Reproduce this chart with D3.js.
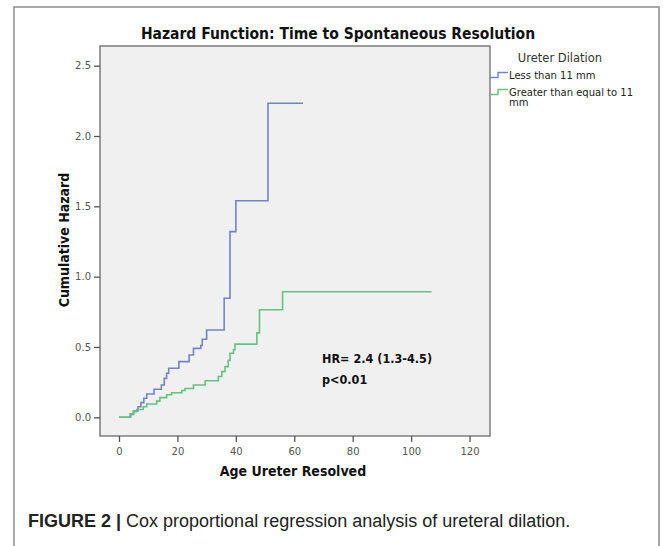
<!DOCTYPE html>
<html>
<head>
<meta charset="utf-8">
<script src="https://cdn.jsdelivr.net/npm/d3@7"></script>
<style>
  body { margin: 0; background: #fff; }
  svg { display: block; }
</style>
</head>
<body>
<div class="chart-container"></div>
<script>
// Less than 11 mm (blue) - step times and cumulative hazard
const lessTimes  = [0, 4, 5, 6.5, 7.5, 8.5, 9.5, 12, 14.5, 15.5, 16.3, 17, 20.5, 24, 25.5, 28, 28.5, 30, 36, 38, 40, 51, 63];
const lessHazard = [0, 0.02, 0.045, 0.075, 0.104, 0.135, 0.166, 0.199, 0.23, 0.277, 0.313, 0.349, 0.396, 0.443, 0.49, 0.51, 0.555, 0.621, 0.846, 1.32, 1.54, 2.233, 2.233];

// Greater than equal to 11 mm (green)
const greaterTimes  = [0, 3.8, 4.9, 6.1, 8.3, 9.5, 12.9, 14, 16.3, 18, 21.5, 22.6, 25.5, 29.5, 34, 35.2, 36.3, 37.4, 38, 39.2, 39.7, 47.2, 48.1, 56, 107];
const greaterHazard = [0, 0.024, 0.04, 0.055, 0.075, 0.095, 0.115, 0.14, 0.16, 0.175, 0.19, 0.205, 0.23, 0.26, 0.29, 0.325, 0.36, 0.405, 0.455, 0.48, 0.52, 0.60, 0.765, 0.893, 0.893];

const xTicks = [0, 20, 40, 60, 80, 100, 120];
const yTicks = [0, 0.5, 1.0, 1.5, 2.0, 2.5];
const groups = ['Less than 11 mm', 'Greater than equal to 11 mm'];
const groupColors = ['#7482c9', '#62c47e'];

const svg_width = 669, svg_height = 546;
const plot = {left: 100, top: 46, right: 490, bottom: 436};
const chartFont = 'DejaVu Sans Condensed, DejaVu Sans, sans-serif';

const svg = d3.select('.chart-container').append('svg')
    .attr('width', svg_width).attr('height', svg_height);

// outer figure frame
svg.append('rect')
    .attr('x', 14).attr('y', 7).attr('width', 645).attr('height', 600)
    .style('fill', 'none').style('stroke', '#8a8a8a').style('stroke-width', 1.5);

const xScale = d3.scaleLinear().domain([-6.5, 127]).range([plot.left, plot.right]);
const yScale = d3.scaleLinear().domain([-0.133, 2.64]).range([plot.bottom, plot.top]);

// plot background
svg.append('rect')
    .attr('x', plot.left).attr('y', plot.top)
    .attr('width', plot.right - plot.left).attr('height', plot.bottom - plot.top)
    .style('fill', '#f0f0f0').style('stroke', '#6a6a6a').style('stroke-width', 1.3);

// axes
const xAxis = d3.axisBottom(xScale).tickValues(xTicks).tickSizeInner(6).tickSizeOuter(0);
const xAxisDraw = svg.append('g').attr('transform', `translate(0,${plot.bottom})`).call(xAxis);
const yAxis = d3.axisLeft(yScale).tickValues(yTicks).tickFormat(d3.format('.1f')).tickSizeInner(6).tickSizeOuter(0);
const yAxisDraw = svg.append('g').attr('transform', `translate(${plot.left},0)`).call(yAxis);

[xAxisDraw, yAxisDraw].forEach(a => {
    a.select('.domain').remove();
    a.selectAll('line').style('stroke', '#555').style('stroke-width', 1.3);
    a.selectAll('text').style('font-family', 'DejaVu Sans, sans-serif')
        .style('font-size', '10px').style('fill', '#555');
});
xAxisDraw.selectAll('text').attr('dy', '0.95em');

// step curves
const line = d3.line()
    .x(d => xScale(d[0]))
    .y(d => yScale(d[1]))
    .curve(d3.curveStepAfter);

const series = [
    d3.zip(lessTimes, lessHazard),
    d3.zip(greaterTimes, greaterHazard)
];

svg.selectAll('.curve')
    .data(series).enter()
    .append('path')
    .attr('class', 'curve')
    .attr('d', line)
    .style('fill', 'none')
    .style('stroke', (d, i) => groupColors[i])
    .style('stroke-width', 1.6);

// title
svg.append('text')
    .attr('x', 338).attr('y', 39)
    .attr('text-anchor', 'middle')
    .style('font-family', chartFont).style('font-weight', 'bold')
    .style('font-size', '15.5px').style('fill', '#111')
    .text('Hazard Function: Time to Spontaneous Resolution');

// axis titles
svg.append('text')
    .attr('transform', 'translate(69,240) rotate(-90)')
    .attr('text-anchor', 'middle')
    .style('font-family', chartFont).style('font-weight', 'bold')
    .style('font-size', '14px').style('fill', '#111')
    .text('Cumulative Hazard');

svg.append('text')
    .attr('x', 293).attr('y', 476)
    .attr('text-anchor', 'middle')
    .style('font-family', chartFont).style('font-weight', 'bold')
    .style('font-size', '14px').style('fill', '#111')
    .text('Age Ureter Resolved');

// legend
const legend = svg.append('g').attr('class', 'legend');
legend.append('text')
    .attr('x', 560).attr('y', 62).attr('text-anchor', 'middle')
    .style('font-family', 'DejaVu Sans, sans-serif')
    .style('font-size', '11.5px').style('fill', '#333')
    .text('Ureter Dilation');

const legendRows = [
    {y: 75, lines: ['Less than 11 mm']},
    {y: 92, lines: ['Greater than equal to 11', 'mm']}
];
legendRows.forEach((r, i) => {
    legend.append('path')
        .attr('d', `M490,${r.y + 2.5}H498V${r.y - 2.5}H508`)
        .style('fill', 'none').style('stroke', groupColors[i]).style('stroke-width', 1.4);
    const t = legend.append('text')
        .attr('x', 509).attr('y', r.y + 4)
        .style('font-family', 'DejaVu Sans, sans-serif')
        .style('font-size', '10px').style('fill', '#222');
    r.lines.forEach((s, j) => {
        t.append('tspan').attr('x', 509).attr('dy', j === 0 ? 0 : '1.0em').text(s);
    });
});

// annotation
const note = svg.append('text')
    .style('font-family', chartFont).style('font-weight', 'bold')
    .style('font-size', '12.5px').style('fill', '#111');
note.append('tspan').attr('x', 322).attr('y', 363).text('HR= 2.4 (1.3-4.5)');
note.append('tspan').attr('x', 322).attr('y', 384).text('p<0.01');

// caption
const caption = svg.append('text')
    .attr('x', 28).attr('y', 527)
    .style('font-family', 'Liberation Sans, Arial, sans-serif')
    .style('font-size', '18px').style('fill', '#222');
caption.append('tspan').style('font-weight', 'bold').text('FIGURE 2 | ');
caption.append('tspan').text('Cox proportional regression analysis of ureteral dilation.');
</script>
</body>
</html>
